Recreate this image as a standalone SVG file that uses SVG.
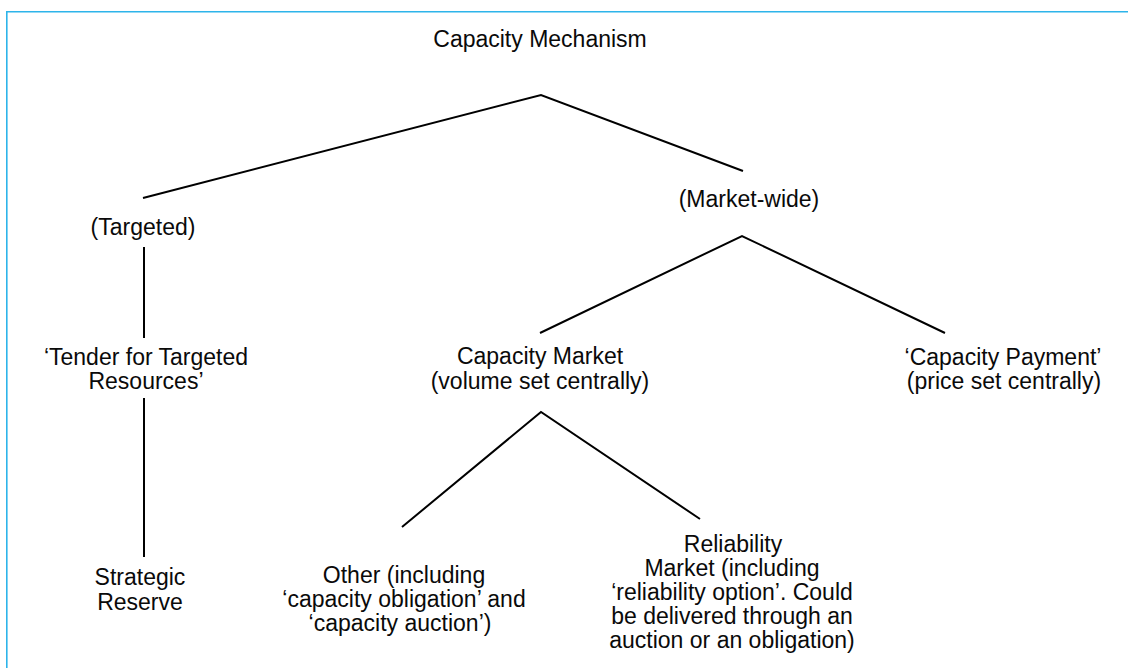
<svg xmlns="http://www.w3.org/2000/svg" width="1128" height="668" viewBox="0 0 1128 668">
  <style>
    .t { font-family: "Liberation Sans", Arial, Helvetica, sans-serif; font-size: 23px; fill: #0a0a0a; text-anchor: middle; }
    .c { stroke: #000; stroke-width: 2; fill: none; }
    .frame { stroke: #2db4ea; stroke-width: 1.6; fill: none; }
  </style>
  <rect width="1128" height="668" fill="#fff"/>
  <path class="frame" d="M6.8,668 V11.8 H1128"/>
  <g id="connectors">
    <polyline class="c" points="143,198 541,95 743,171"/>
    <line class="c" x1="144" y1="247" x2="144" y2="338"/>
    <line class="c" x1="144" y1="398" x2="144" y2="557"/>
    <polyline class="c" points="540,333 742,236 945,333"/>
    <polyline class="c" points="402,527 541,412 700,519"/>
  </g>
  <g id="capacity-mechanism"><text class="t" x="540" y="47">Capacity Mechanism</text></g>
  <g id="targeted"><text class="t" x="143" y="235">(Targeted)</text></g>
  <g id="market-wide"><text class="t" x="749" y="207">(Market-wide)</text></g>
  <g id="tender"><text class="t" x="146" y="365">‘Tender for Targeted</text><text class="t" x="146" y="389">Resources’</text></g>
  <g id="capacity-market"><text class="t" x="540" y="364">Capacity Market</text><text class="t" x="540" y="389">(volume set centrally)</text></g>
  <g id="capacity-payment"><text class="t" x="1003" y="365">‘Capacity Payment’</text><text class="t" x="1004" y="389">(price set centrally)</text></g>
  <g id="strategic-reserve"><text class="t" x="140" y="585">Strategic</text><text class="t" x="140" y="610">Reserve</text></g>
  <g id="other"><text class="t" x="404" y="583">Other (including</text><text class="t" x="404" y="607">‘capacity obligation’ and</text><text class="t" x="400" y="631">‘capacity auction’)</text></g>
  <g id="reliability-market"><text class="t" x="733" y="552">Reliability</text><text class="t" x="732" y="576">Market (including</text><text class="t" x="732" y="600">‘reliability option’. Could</text><text class="t" x="732" y="624">be delivered through an</text><text class="t" x="732" y="648">auction or an obligation)</text></g>
</svg>
